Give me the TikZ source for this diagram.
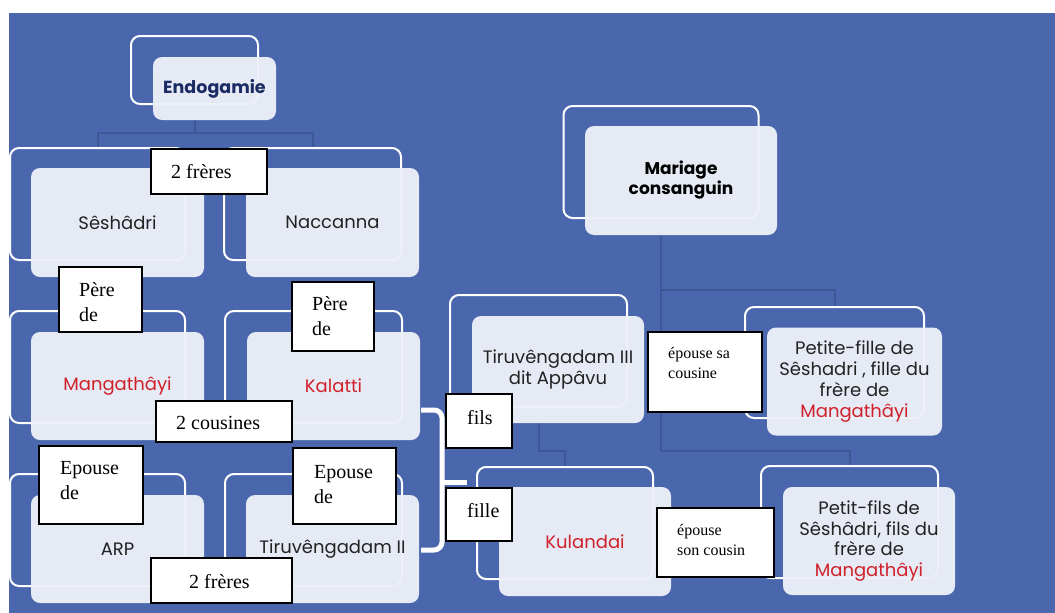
\documentclass[tikz,border=0pt]{standalone}
\usepackage{fontspec}
\setmainfont{Liberation Serif}
\newfontfamily\gothic{Poppins}
\definecolor{bg}{HTML}{4A67AE}
\definecolor{boxfill}{HTML}{EDF0F7}
\definecolor{connc}{HTML}{3D5894}
\definecolor{txt}{HTML}{222222}
\definecolor{redt}{HTML}{D0202A}
\definecolor{navy}{HTML}{1B2B63}
\tikzset{
 outl/.style={draw=white, line width=2pt, rounded corners=9pt, inner sep=0pt},
 fbox/.style={fill=boxfill, fill opacity=0.96, text opacity=1, rounded corners=9pt, inner sep=0pt, align=center, text=txt, font=\gothic\fontsize{18}{20.7}\selectfont},
 lbl/.style={draw=black, fill=white, line width=1.2pt, inner sep=0pt},
 lt/.style={inner sep=0pt, anchor=west, align=left, font=\fontsize{20}{25}\selectfont},
 lts/.style={inner sep=0pt, anchor=west, align=left, font=\fontsize{16}{20}\selectfont},
 connl/.style={draw=connc, line width=2pt},
 bracel/.style={draw=white, line width=5pt, rounded corners=8pt},
}
\begin{document}
\begin{tikzpicture}[x=1pt,y=-1pt]
\useasboundingbox (0,0) rectangle (1055,613);
\fill[white] (0,0) rectangle (1055,613);
\fill[bg] (9,13) rectangle (1055,613);

% outline nodes
\node[outl, minimum width=127, minimum height=68] (endoO) at (194.5,70) {};
\node[outl, minimum width=175, minimum height=112] (seshO) at (97.5,204) {};
\node[outl, minimum width=177, minimum height=112] (naccO) at (312.5,204) {};
\node[outl, minimum width=175, minimum height=112] (mangO) at (97.5,367) {};
\node[outl, minimum width=177, minimum height=112] (kalO) at (313.5,367) {};
\node[outl, minimum width=175, minimum height=112] (arpO) at (97.5,530) {};
\node[outl, minimum width=177, minimum height=112] (t2O) at (313.5,530) {};
\node[outl, minimum width=195, minimum height=112] (marO) at (661,162) {};
\node[outl, minimum width=177, minimum height=112] (t3O) at (538.5,351) {};
\node[outl, minimum width=179, minimum height=111] (pfO) at (834.5,362.5) {};
\node[outl, minimum width=176, minimum height=112] (kulO) at (565,523) {};
\node[outl, minimum width=177, minimum height=112] (pfsO) at (849.5,522) {};

% connectors
\coordinate (j1) at (194.5,133);
\coordinate (j2) at (661,290);
\coordinate (j3) at (661,451);
\draw[connl] (endoO.south) -- (j1);
\draw[connl] (seshO.north) |- (naccO.north |- j1) -- (naccO.north);
\draw[connl] (marO.south) -- (j3);
\draw[connl] (j2) -| (pfO.north);
\draw[connl] (j3) -| (pfsO.north);
\draw[connl] (t3O.south) |- (kulO.north |- j3) -- (kulO.north);

% filled boxes
\node[fbox, minimum width=123, minimum height=63, font=\gothic\bfseries\fontsize{17.5}{21}\selectfont, text=navy] (endo) at (214.5,88.5) {Endogamie};
\node[fbox, minimum width=173, minimum height=109] (sesh) at (117.5,222.5) {Sêshâdri};
\node[fbox, minimum width=173, minimum height=109] (nacc) at (332.5,222.5) {Naccanna};
\node[fbox, minimum width=173, minimum height=108, text=redt] (mang) at (117.5,386) {Mangathâyi};
\node[fbox, minimum width=173, minimum height=108, text=redt] (kal) at (333.5,386) {Kalatti};
\node[fbox, minimum width=173, minimum height=108] (arp) at (117.5,549) {ARP};
\node[fbox, minimum width=173, minimum height=108] (t2) at (332.5,549) {Tiruvêngadam II};
\node[fbox, minimum width=192, minimum height=109, font=\gothic\bfseries\fontsize{17}{20}\selectfont, text=black] (mar) at (681,180.5) {Mariage\\consanguin};
\node[fbox, minimum width=172, minimum height=107] (t3) at (558,369.5) {Tiruvêngadam III\\dit Appâvu};
\node[fbox, minimum width=175, minimum height=108] (pf) at (854.5,381.5) {Petite-fille de\\Sêshadri , fille du\\frère de\\\textcolor{redt}{Mangathâyi}};
\node[fbox, minimum width=172, minimum height=109, text=redt] (kul) at (585,541.5) {Kulandai};
\node[fbox, minimum width=172, minimum height=108] (pfs) at (869,541) {Petit-fils de\\Sêshâdri, fils du\\frère de\\\textcolor{redt}{Mangathâyi}};

% brace
\coordinate (bt) at (421,410);
\coordinate (bb) at (421,550);
\coordinate (bm) at (442,482);
\coordinate (btip) at (467,482);
\draw[bracel] (bt) -| (bm) |- (bb);
\draw[draw=white, line width=5pt] (bm) -- (btip);

% label boxes
\node[lbl, minimum width=116, minimum height=45] (l1) at (209,171.5) {};
\node[lt] at (171,172) {2 frères};
\node[lbl, minimum width=83, minimum height=65] (l2) at (100.5,299.5) {};
\node[lt] at (79,302.5) {Père\\de};
\node[lbl, minimum width=82, minimum height=69] (l3) at (333,316.5) {};
\node[lt] at (312,316.5) {Père\\de};
\node[lbl, minimum width=136, minimum height=41] (l4) at (224,421.5) {};
\node[lt] at (176,423) {2 cousines};
\node[lbl, minimum width=104, minimum height=78] (l5) at (91,485) {};
\node[lt] at (60,481) {Epouse\\de};
\node[lbl, minimum width=103, minimum height=76] (l6) at (344.5,486) {};
\node[lt] at (314,484.5) {Epouse\\de};
\node[lbl, minimum width=141, minimum height=45] (l7) at (221.5,580.5) {};
\node[lt] at (189,582) {2 frères};
\node[lbl, minimum width=66, minimum height=54] (l8) at (479,421) {};
\node[lt] at (467,418) {fils};
\node[lbl, minimum width=66, minimum height=53] (l9) at (479,514.5) {};
\node[lt] at (467,511) {fille};
\node[lbl, minimum width=114, minimum height=80] (l10) at (705,372) {};
\node[lts] at (668,363) {épouse sa\\cousine};
\node[lbl, minimum width=117, minimum height=69] (l11) at (715.5,542.5) {};
\node[lts] at (677,540) {épouse\\son cousin};
\end{tikzpicture}
\end{document}
